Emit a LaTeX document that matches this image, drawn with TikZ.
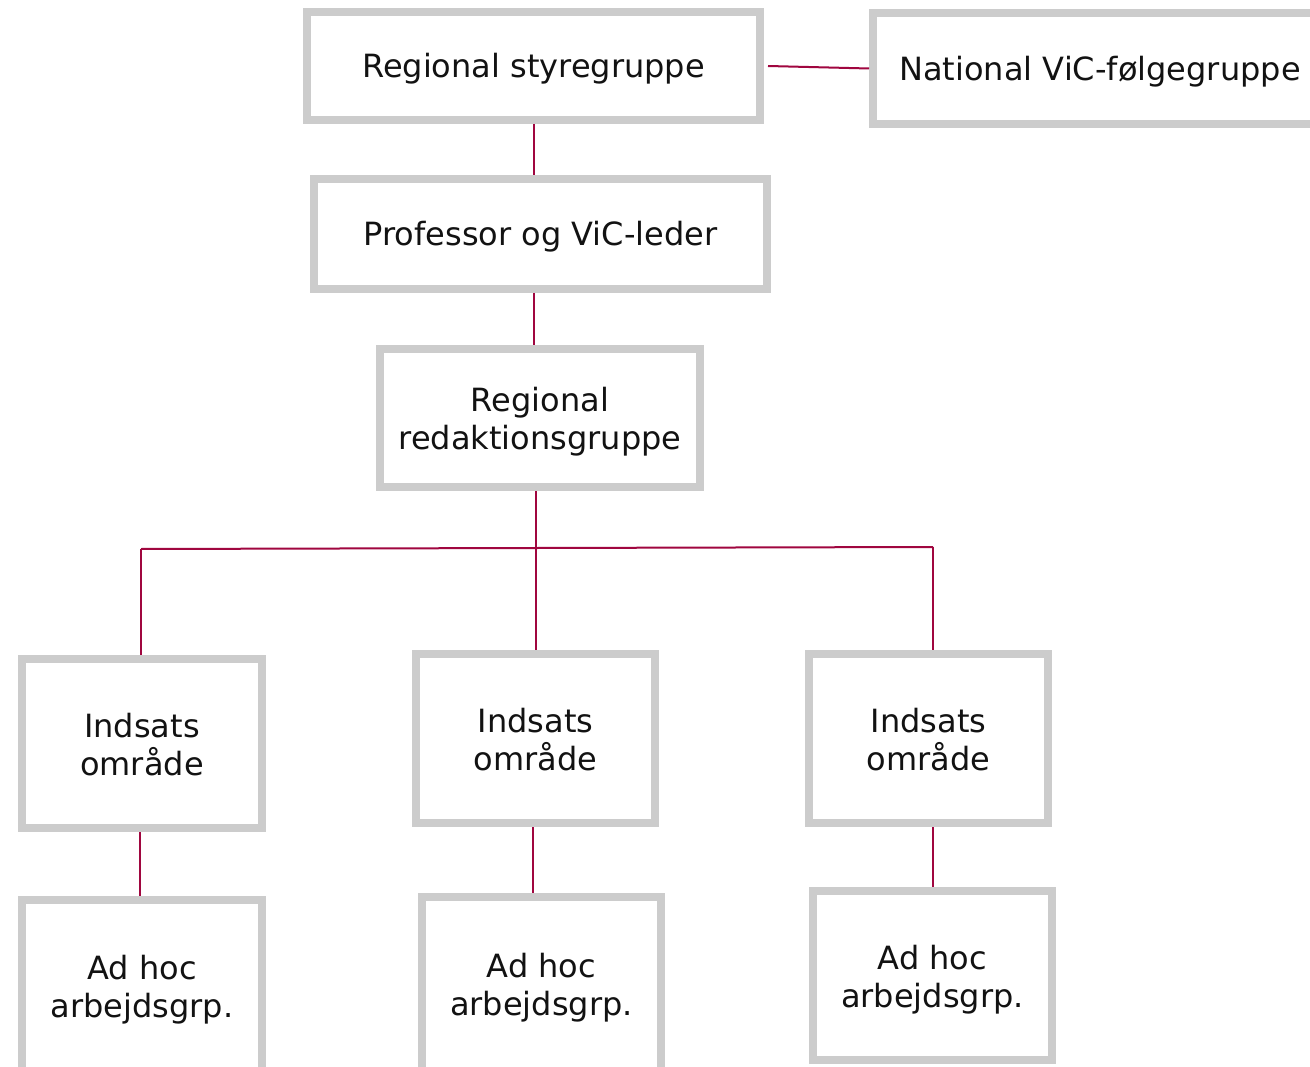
\documentclass[tikz,border=0pt]{standalone}
\usepackage{fontspec}
\setmainfont{DejaVu Sans}
\begin{document}
\begin{tikzpicture}[x=1pt,y=-1pt,
  box/.style={draw=boxgray, line width=8pt, fill=white, inner sep=0pt, align=center,
    font=\fontsize{32}{38}\selectfont, text=black!93},
  one/.style={box, text height=31pt, text depth=7.5pt},
  two/.style={box, text height=70pt, text depth=7pt},
  conn/.style={draw=linecol, line width=2pt}]
\definecolor{boxgray}{HTML}{CCCCCC}
\definecolor{linecol}{HTML}{A0063F}
\useasboundingbox (0,0) rectangle (1310,1067);
\clip (0,0) rectangle (1310,1067);
\fill[white] (0,0) rectangle (1310,1067);
\node[one, minimum width=453pt, minimum height=108pt] (s) at (533.5,66) {Regional styregruppe};
\node[one, minimum width=454pt, minimum height=111pt] (n) at (1100,68.5) {National ViC-følgegruppe};
\node[one, minimum width=453pt, minimum height=110pt] (p) at (540.5,234) {Professor og ViC-leder};
\node[two, minimum width=320pt, minimum height=138pt] (r) at (540,418) {Regional\\redaktionsgruppe};
\node[two, minimum width=240pt, minimum height=169pt] (i1) at (142,743.5) {Indsats\\område};
\node[two, minimum width=239pt, minimum height=169pt] (i2) at (535.5,738.5) {Indsats\\område};
\node[two, minimum width=239pt, minimum height=169pt] (i3) at (928.5,738.5) {Indsats\\område};
\node[two, minimum width=240pt, minimum height=172pt] (a1) at (142,986) {Ad hoc\\arbejdsgrp.};
\node[two, minimum width=239pt, minimum height=174pt] (a2) at (541.5,984) {Ad hoc\\arbejdsgrp.};
\node[two, minimum width=239pt, minimum height=169pt] (a3) at (932.5,975.5) {Ad hoc\\arbejdsgrp.};
\draw[conn] ([xshift=4pt]s.east) -- (n.west);
\draw[conn] (s.south) -- (s.south |- p.north);
\draw[conn] (s.south |- p.south) -- (s.south |- r.north);
\draw[conn] (i2.north |- r.south) -- (i2.north);
\coordinate (bl) at (141,549);
\coordinate (br) at (933,547);
\draw[conn] (bl) -- (br);
\draw[conn] (bl) -- (bl |- i1.north);
\draw[conn] (br) -- (br |- i3.north);
\draw[conn] ([xshift=-2pt]i1.south) -- ([xshift=-2pt]i1.south |- a1.north);
\draw[conn] ([xshift=-2.5pt]i2.south) -- ([xshift=-2.5pt]i2.south |- a2.north);
\draw[conn] (a3.north |- i3.south) -- (a3.north);
\end{tikzpicture}
\end{document}
